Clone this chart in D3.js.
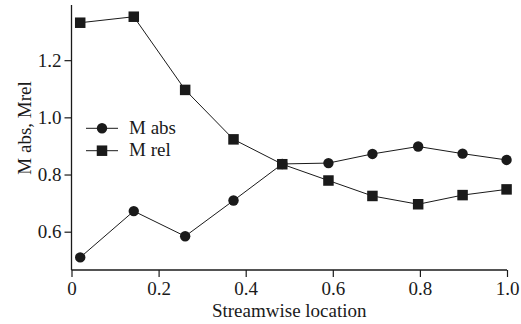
<!DOCTYPE html>
<html>
<head>
<meta charset="utf-8">
<script src="https://cdn.jsdelivr.net/npm/d3@7"></script>
<style>
  body { margin: 0; background: #fff; }
  svg { display: block; }
  svg text { font-family: "Liberation Serif", "Times New Roman", Times, serif; font-size: 19px; }
</style>
</head>
<body>
<div id="chart"></div>
<script>
const locations = [0.02, 0.143, 0.261, 0.372, 0.484, 0.59, 0.691, 0.796, 0.898, 0.999];
const mAbs = [0.510, 0.672, 0.584, 0.709, 0.837, 0.840, 0.872, 0.898, 0.873, 0.851];
const mRel = [1.331, 1.352, 1.096, 0.923, 0.836, 0.779, 0.725, 0.696, 0.728, 0.748];
const xTicks = [0, 0.2, 0.4, 0.6, 0.8, 1.0];
const yTicks = [0.6, 0.8, 1.0, 1.2];
const seriesNames = ["M abs", "M rel"];

const ink = "#1a1a1a";

const width = 521, height = 324;
const margin = { left: 71.5, right: 14, top: 5, bottom: 54 };

const svg = d3.select("#chart").append("svg")
  .attr("width", width)
  .attr("height", height);

const x = d3.scaleLinear().domain([0, 1]).range([margin.left, width - margin.right]);
const y = d3.scaleLinear().domain([0.466, 1.393]).range([height - margin.bottom, margin.top]);

// axes
const xAxis = svg.append("g")
  .attr("transform", `translate(0,${height - margin.bottom})`)
  .call(d3.axisBottom(x).tickValues(xTicks).tickSize(7).tickPadding(5).tickFormat(d => d === 0 ? "0" : d3.format(".1f")(d)));

const yAxis = svg.append("g")
  .attr("transform", `translate(${margin.left},0)`)
  .call(d3.axisLeft(y).tickValues(yTicks).tickSize(7).tickPadding(3).tickFormat(d3.format(".1f")));

[xAxis, yAxis].forEach(g => {
  g.attr("font-family", null).attr("font-size", null);
  g.select(".domain").attr("stroke", ink).attr("stroke-width", 1.3);
  g.selectAll(".tick line").attr("stroke", ink).attr("stroke-width", 1.2);
  g.selectAll(".tick text").attr("fill", ink);
});
// no outer ticks at the ends
xAxis.select(".domain").attr("d", `M${x(0)},0H${x(1)}`);
yAxis.select(".domain").attr("d", `M0,${y.range()[0]}V${y.range()[1]}`);

// axis titles
svg.append("text")
  .attr("x", (x(0) + x(1)) / 2)
  .attr("y", 317)
  .attr("text-anchor", "middle")
  .attr("fill", ink)
  .text("Streamwise location");

svg.append("text")
  .attr("transform", `translate(31,${y(0.963)}) rotate(-90)`)
  .attr("text-anchor", "middle")
  .attr("fill", ink)
  .text("M abs, Mrel");

const line = d3.line()
  .x((d, i) => x(locations[i]))
  .y(d => y(d));

const plot = svg.append("g");

plot.append("path").datum(mAbs)
  .attr("d", line).attr("fill", "none").attr("stroke", ink).attr("stroke-width", 1);
plot.append("path").datum(mRel)
  .attr("d", line).attr("fill", "none").attr("stroke", ink).attr("stroke-width", 1);

plot.selectAll(".abs").data(mAbs).enter().append("circle")
  .attr("class", "abs")
  .attr("cx", (d, i) => x(locations[i]))
  .attr("cy", d => y(d))
  .attr("r", 5.2)
  .attr("fill", ink);

const sq = 10.5;
plot.selectAll(".rel").data(mRel).enter().append("rect")
  .attr("class", "rel")
  .attr("x", (d, i) => x(locations[i]) - sq / 2)
  .attr("y", d => y(d) - sq / 2)
  .attr("width", sq)
  .attr("height", sq)
  .attr("fill", ink);

// legend
const legend = svg.append("g").attr("transform", "translate(86,128.3)");
seriesNames.forEach((name, i) => {
  const g = legend.append("g").attr("transform", `translate(0,${i * 22.4})`);
  g.append("line").attr("x1", 0).attr("x2", 32).attr("y1", 0).attr("y2", 0)
    .attr("stroke", ink).attr("stroke-width", 1);
  if (i === 0) {
    g.append("circle").attr("cx", 16).attr("cy", 0).attr("r", 5.2).attr("fill", ink);
  } else {
    g.append("rect").attr("x", 16 - sq / 2).attr("y", -sq / 2).attr("width", sq).attr("height", sq).attr("fill", ink);
  }
  g.append("text")
    .attr("x", 43)
    .attr("y", 5.5)
    .attr("fill", ink)
    .text(name);
});
</script>
</body>
</html>
